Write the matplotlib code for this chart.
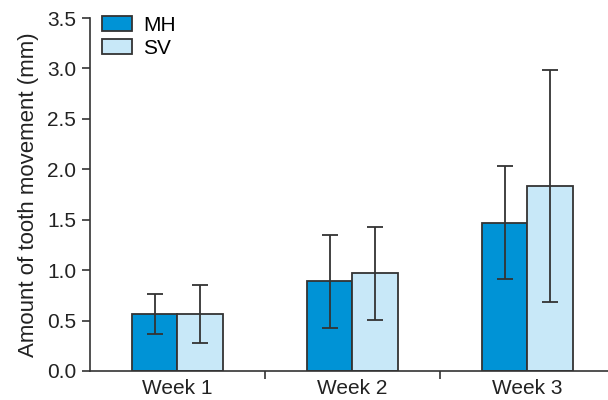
import matplotlib
matplotlib.use("Agg")
import matplotlib.pyplot as plt
from matplotlib.patches import Patch
import numpy as np

plt.rcParams['font.family'] = ['Liberation Sans', 'DejaVu Sans']

weeks = ["Week 1", "Week 2", "Week 3"]
mh_mean = [0.565, 0.89, 1.47]
mh_err = [0.20, 0.46, 0.56]
sv_mean = [0.565, 0.97, 1.83]
sv_err = [0.29, 0.46, 1.15]

mh_color = "#0093d6"
sv_color = "#c8e8f8"
edge = "#333333"
txt = "#222222"

fig = plt.figure(figsize=(6.08, 4), dpi=100)
ax = fig.add_axes([0.148, 0.0725, 0.852, 0.8825])

x = np.arange(len(weeks))
w = 0.26
ekw = dict(ecolor=edge, elinewidth=1.3, capsize=6, capthick=1.3)
ax.bar(x - w / 2, mh_mean, w, color=mh_color, edgecolor=edge, linewidth=1.3,
       yerr=mh_err, error_kw=ekw, label="MH")
ax.bar(x + w / 2, sv_mean, w, color=sv_color, edgecolor=edge, linewidth=1.3,
       yerr=sv_err, error_kw=ekw, label="SV")

ax.set_xlim(-0.5, 2.46)
ax.set_ylim(0, 3.5)
ticks = np.arange(0, 3.51, 0.5)
ax.set_yticks(ticks)
ax.set_yticklabels([f"{v:.1f}" for v in ticks])
ax.set_xticks(x)
ax.set_xticklabels(weeks)
ax.set_xticks([0.5, 1.5], minor=True)
ax.tick_params(axis='x', which='major', length=0, labelsize=15, pad=6, labelcolor=txt)
ax.tick_params(axis='x', which='minor', length=6, width=1.2, color=edge)
ax.tick_params(axis='y', length=6, width=1.2, color=edge, labelsize=15, labelcolor=txt, pad=4)

for s in ["top", "right"]:
    ax.spines[s].set_visible(False)
for s in ["left", "bottom"]:
    ax.spines[s].set_color(edge)
    ax.spines[s].set_linewidth(1.2)

ax.set_ylabel("Amount of tooth movement (mm)", fontsize=16, color=txt, labelpad=6)

handles = [Patch(facecolor=mh_color, edgecolor=edge, linewidth=1.3, label="MH"),
           Patch(facecolor=sv_color, edgecolor=edge, linewidth=1.3, label="SV")]
ax.legend(handles=handles, loc="upper left", bbox_to_anchor=(0.008, 1.03), frameon=False,
          fontsize=15, handlelength=1.4, handleheight=0.75, handletextpad=0.55,
          labelspacing=0.2, borderaxespad=0)

fig.savefig("out.png", dpi=100)
